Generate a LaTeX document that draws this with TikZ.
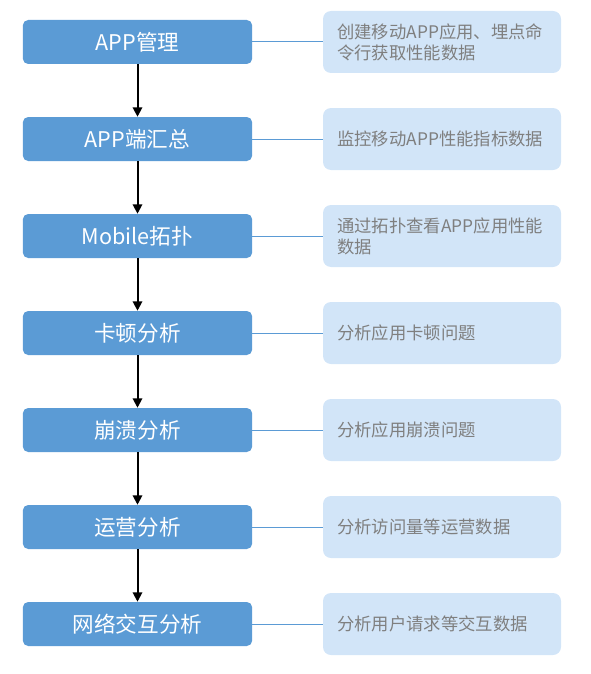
\documentclass[tikz,border=0pt]{standalone}
\usepackage{fontspec}
\setmainfont{Noto Sans CJK SC}
\usetikzlibrary{arrows.meta}
\definecolor{boxblue}{HTML}{5B9BD5}
\definecolor{lightblue}{HTML}{D2E5F8}
\definecolor{txtgray}{HTML}{7F7F7F}
\begin{document}
\begin{tikzpicture}[x=0.75pt,y=-0.75pt,
  stepbox/.style={fill=boxblue, rounded corners=4pt, minimum width=172pt, minimum height=33pt,
    text=white, font=\fontsize{16.2}{18}\selectfont, inner sep=0pt},
  notebox/.style={fill=lightblue, rounded corners=6pt, minimum width=178.5pt, minimum height=46.5pt, inner sep=0pt},
  notetext/.style={text=txtgray, font=\fontsize{13}{15.75}\selectfont, align=left, anchor=west, inner sep=0pt},
  link/.style={draw=boxblue, line width=0.75pt},
  flow/.style={draw=black, line width=1.5pt, -{Triangle[width=7pt,length=7pt]}}]
\useasboundingbox (0,0) rectangle (591,674);
% left steps
\node[stepbox] (s1) at (137.5,42) {APP管理};
\node[stepbox] (s2) at (137.5,139) {APP端汇总};
\node[stepbox] (s3) at (137.5,236) {Mobile拓扑};
\node[stepbox] (s4) at (137.5,333) {卡顿分析};
\node[stepbox] (s5) at (137.5,430) {崩溃分析};
\node[stepbox] (s6) at (137.5,527) {运营分析};
\node[stepbox] (s7) at (137.5,624) {网络交互分析};
% right notes
\node[notebox] (n1) at (442,42) {};
\node[notebox] (n2) at (442,139) {};
\node[notebox] (n3) at (442,236) {};
\node[notebox] (n4) at (442,333) {};
\node[notebox] (n5) at (442,430) {};
\node[notebox] (n6) at (442,527) {};
\node[notebox] (n7) at (442,624) {};
\node[notetext] (t1) at (337,42) {创建移动APP应用、埋点命\\令行获取性能数据};
\node[notetext] (t2) at (337,139) {监控移动APP性能指标数据};
\node[notetext] (t3) at (337,236) {通过拓扑查看APP应用性能\\数据};
\node[notetext] (t4) at (337,333) {分析应用卡顿问题};
\node[notetext] (t5) at (337,430) {分析应用崩溃问题};
\node[notetext] (t6) at (337,527) {分析访问量等运营数据};
\node[notetext] (t7) at (337,624) {分析用户请求等交互数据};
% links
\foreach \i in {1,...,7} { \draw[link] (s\i.east) -- (n\i.west); }
% flow arrows
\draw[flow] (s1) -- (s2);
\draw[flow] (s2) -- (s3);
\draw[flow] (s3) -- (s4);
\draw[flow] (s4) -- (s5);
\draw[flow] (s5) -- (s6);
\draw[flow] (s6) -- (s7);
\end{tikzpicture}
\end{document}
